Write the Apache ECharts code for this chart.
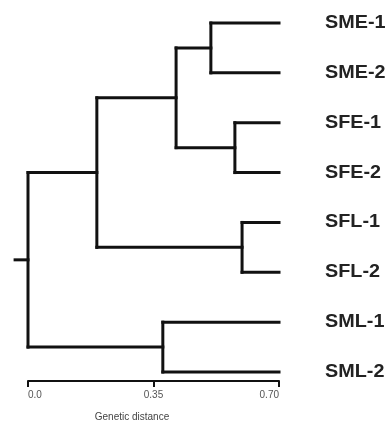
<!DOCTYPE html>
<html>
<head>
<meta charset="utf-8">
<script src="https://cdn.jsdelivr.net/npm/echarts@6/dist/echarts.min.js"></script>
<style>
  html, body { margin: 0; padding: 0; background: #fff; }
  #chart { width: 392px; height: 421px; }
</style>
</head>
<body>
<div id="chart"></div>
<script>
// leaves, top to bottom
const leafNames = ["SME-1", "SME-2", "SFE-1", "SFE-2", "SFL-1", "SFL-2", "SML-1", "SML-2"];
const leafDistance = 0.70;

// merges: two children joined at a genetic distance (x position)
const mergeNames = ["A", "B", "C", "D", "E", "F", "root"];
const mergeChild1 = ["SME-1", "SFE-1", "A", "SFL-1", "C", "SML-1", "E"];
const mergeChild2 = ["SME-2", "SFE-2", "B", "SFL-2", "D", "SML-2", "F"];
const mergeDistance = [0.51, 0.577, 0.413, 0.597, 0.192, 0.376, 0.0];
const rootStub = -0.036;

const tickValues = [0, 0.35, 0.70];
const tickLabels = ["0.0", "0.35", "0.70"];

// node positions
let pos = {};
leafNames.forEach(function (n, i) {
  pos[n] = { x: leafDistance, y: i };
});
mergeNames.forEach(function (n, i) {
  let a = pos[mergeChild1[i]], b = pos[mergeChild2[i]];
  pos[n] = { x: mergeDistance[i], y: (a.y + b.y) / 2 };
});

// segments [x1, y1, x2, y2]
let segments = [];
mergeNames.forEach(function (n, i) {
  let p = pos[n], a = pos[mergeChild1[i]], b = pos[mergeChild2[i]];
  segments.push([p.x, a.y, p.x, b.y]);
  segments.push([p.x, a.y, a.x, a.y]);
  segments.push([p.x, b.y, b.x, b.y]);
});
segments.push([rootStub, pos.root.y, pos.root.x, pos.root.y]);

let leafData = leafNames.map(function (n, i) { return [leafDistance, i, n]; });

let chart = echarts.init(document.getElementById("chart"));
let option = {
  animation: false,
  grid: { left: 28, right: 113, top: 23, bottom: 40, outerBoundsMode: "none", containLabel: false },
  xAxis: {
    type: "value",
    position: "bottom",
    min: 0,
    max: 0.7,
    interval: 0.35,
    splitLine: { show: false },
    axisLine: { onZero: false, lineStyle: { color: "#111", width: 2 } },
    axisTick: { length: 6, lineStyle: { color: "#111", width: 2 } },
    axisLabel: {
      margin: 9,
      fontSize: 10,
      color: "#555",
      fontFamily: "Liberation Sans",
      alignMinLabel: "left",
      alignMaxLabel: "right",
      formatter: function (v) {
        let k = tickValues.findIndex(function (t) { return Math.abs(t - v) < 1e-6; });
        return k >= 0 ? tickLabels[k] : "";
      }
    },
    name: "Genetic distance",
    nameLocation: "middle",
    nameGap: 31,
    nameTextStyle: {
      fontSize: 10,
      color: "#444",
      fontFamily: "Liberation Sans",
      padding: [0, 43, 0, 0]
    }
  },
  yAxis: {
    type: "value",
    inverse: true,
    min: 0,
    max: 7.18,
    show: false
  },
  series: [
    {
      type: "custom",
      clip: false,
      data: segments,
      renderItem: function (params, api) {
        let p1 = api.coord([api.value(0), api.value(1)]);
        let p2 = api.coord([api.value(2), api.value(3)]);
        return {
          type: "line",
          shape: { x1: p1[0], y1: p1[1], x2: p2[0], y2: p2[1] },
          style: { stroke: "#111", lineWidth: 3, lineCap: "square" }
        };
      }
    },
    {
      type: "custom",
      clip: false,
      data: leafData,
      renderItem: function (params, api) {
        let p = api.coord([api.value(0), api.value(1)]);
        return {
          type: "text",
          x: p[0] + 46,
          y: p[1],
          scaleX: 1.1,
          style: {
            text: leafData[params.dataIndex][2],
            font: "bold 18px 'Liberation Sans', Arial, sans-serif",
            fill: "#222",
            verticalAlign: "middle",
            align: "left"
          }
        };
      }
    }
  ]
};
chart.setOption(option);
</script>
</body>
</html>
